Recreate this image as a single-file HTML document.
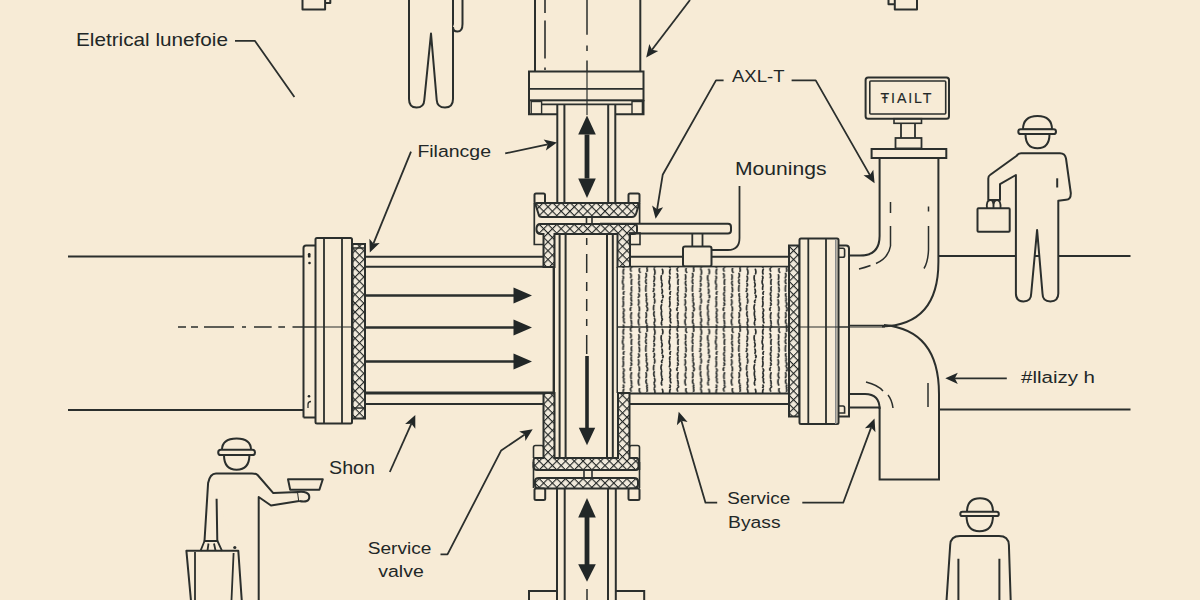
<!DOCTYPE html>
<html><head><meta charset="utf-8"><title>Pipe diagram</title>
<style>
html,body{margin:0;padding:0;background:#F7EBD6;}
svg{display:block;}
text{font-family:"Liberation Sans",sans-serif;fill:#222727;}
</style></head><body>
<svg width="1200" height="600" viewBox="0 0 1200 600">
<defs>
<pattern id="xh" width="6.2" height="6.2" patternUnits="userSpaceOnUse" patternTransform="rotate(45)">
<rect width="6.2" height="6.2" fill="#f1eadc"/>
<path d="M0 0H6.2M0 0V6.2" stroke="#232726" stroke-width="2.2" fill="none"/>
</pattern>
<pattern id="fil" width="46.50" height="60" patternUnits="userSpaceOnUse" x="619.5" y="268">
<rect width="46.50" height="60" fill="#f8efdf"/>
<path d="M4.3 1.2q-1.2 2.4 -0.3 4.7M3.5 8.3q0.9 1.3 0.0 2.7M3.4 12.4q-0.8 2.1 0.4 4.2M4.0 17.8q-0.6 1.8 -0.4 3.7M4.5 23.7q-1.1 1.3 -0.3 2.5M4.1 28.7q-0.9 1.5 -0.3 3.0M3.7 33.3q0.7 2.7 -0.3 5.3M4.0 40.8q1.2 1.5 0.1 2.9M3.8 45.0q1.2 2.3 -0.2 4.6M4.5 50.9q-0.7 2.0 0.4 3.9M4.0 57.1q0.8 1.5 -0.5 2.9M11.3 0.1q-0.6 1.5 0.3 3.0M11.1 5.7q1.1 1.9 0.2 3.9M12.3 11.5q-0.8 2.4 -0.3 4.9M12.2 18.8q-0.8 2.0 0.0 4.0M11.8 24.5q-1.1 1.7 0.2 3.4M11.8 29.6q-0.6 1.7 0.4 3.4M11.6 34.9q1.2 1.3 -0.1 2.6M11.4 39.7q-1.1 1.3 -0.3 2.7M12.0 44.9q-1.0 2.7 -0.4 5.4M11.6 52.3q0.7 1.9 0.5 3.8M11.9 57.5q1.3 1.2 -0.2 2.5M20.1 0.5q-0.8 2.0 0.5 3.9M19.4 6.9q0.6 2.2 0.0 4.4M19.8 13.2q-1.1 2.1 0.2 4.1M19.6 19.2q0.9 2.2 0.3 4.5M19.2 26.0q1.3 1.6 -0.3 3.3M19.1 31.9q0.8 2.5 -0.2 5.1M19.6 38.8q0.8 2.0 0.2 4.0M19.6 44.9q-1.2 2.5 0.5 5.0M19.2 51.6q-0.7 2.7 0.4 5.4M27.5 0.6q0.6 1.4 0.1 2.7M26.5 5.4q1.1 2.2 -0.3 4.5M26.7 11.7q-1.1 1.9 0.2 3.8M26.6 17.7q-0.5 2.7 -0.2 5.5M26.9 25.7q-0.8 1.5 0.2 3.0M27.0 30.2q0.5 1.4 -0.2 2.7M27.2 34.4q1.3 1.9 -0.2 3.7M27.6 39.5q1.3 1.7 -0.1 3.4M26.6 44.8q0.9 2.5 -0.1 4.9M26.9 51.8q-1.0 2.0 0.4 3.9M27.7 57.3q-0.8 1.3 0.1 2.5M34.7 0.9q1.3 2.7 0.5 5.4M34.6 8.2q1.1 2.6 -0.2 5.2M34.6 15.5q0.9 1.3 -0.0 2.6M34.2 20.5q0.7 1.4 -0.4 2.9M34.8 25.5q0.7 1.8 -0.5 3.7M35.0 31.0q0.7 2.0 -0.0 4.0M34.4 37.4q-0.5 2.2 -0.2 4.4M34.7 43.9q-0.9 2.3 0.2 4.6M35.1 50.5q0.9 2.1 -0.4 4.3M34.8 56.1q1.1 2.0 0.1 3.9M42.9 1.4q0.9 2.2 0.2 4.4M41.9 7.7q-0.7 2.6 0.3 5.2M42.1 14.7q1.2 2.1 -0.0 4.2M42.5 21.1q0.9 2.1 0.0 4.1M43.0 27.1q1.2 1.3 0.2 2.6M42.9 32.0q-1.3 1.3 -0.5 2.6M42.1 36.8q-1.1 2.5 -0.2 5.0M42.2 43.3q-0.8 2.6 0.1 5.3M42.3 50.0q1.1 1.3 0.1 2.6M42.1 54.0q-0.5 1.4 0.2 2.9" stroke="#282c2c" stroke-width="1.7" fill="none" stroke-linecap="round"/>
</pattern>
</defs>
<rect width="1200" height="600" fill="#F7EBD6"/>

<g id="main" stroke="#2b2f2d" stroke-width="2" fill="none" stroke-linecap="butt">
<!-- left main pipe lines -->
<path d="M68 256.5H304M68 410H304"/>
<!-- right main pipe lines -->
<path d="M938 256H1130.5M938 409.5H1130.5"/>
<!-- centerline -->
<path d="M178 327H186M191 327H198M204 327H234M242 327H246M254 327H271.7M278.3 327H285M292.5 327H303" stroke-width="1.5"/>
<path d="M303 327H365M618 327H885" stroke-width="1.2"/>

<!-- left flange -->
<path d="M303.5 417.5V248a2.5 2.5 0 0 1 2.5-2.5h9.5" />
<path d="M303.5 417.5h12"/>
<rect x="315.5" y="238" width="36.5" height="185.5" rx="1.5" fill="#F7EBD6"/>
<path d="M324 238.5V423M342 238.5V423" stroke-width="1.8"/>
<rect x="352.5" y="244" width="12.5" height="174.5" fill="url(#xh)"/>
<path d="M352.5 248h12.5M352.5 408h12.5" stroke-width="1.4"/>
<g fill="#222727" stroke="none"><rect x="307.9" y="253" width="2.6" height="4.6" rx="1.2"/><circle cx="309.5" cy="263" r="1.3"/><circle cx="309" cy="396.3" r="1.3"/></g>
<path d="M311 401.5Q308 401.5 308 404.5V408" stroke-width="1.3"/>

<!-- left inner pipe -->
<path d="M365 256.7H543.5M365 266.8H554M365 393.5H543.5M365 404H543.5"/>
<path d="M553.5 267V392.5M365 392.5H553.5" stroke-width="1.8"/>
<!-- flow arrows -->
<path d="M365 295.5H516M365 327.5H516M365 361.5H516" stroke-width="2.7"/>
</g>
<g fill="#222727">
<path d="M513.5 287.5L532 295.5L513.5 303.5Z"/>
<path d="M513.5 319.5L532 327.5L513.5 335.5Z"/>
<path d="M513.5 353.5L532 361.5L513.5 369.5Z"/>
</g>
<g stroke="#2b2f2d" stroke-width="2" fill="none">
<!-- top cylinder -->
<path d="M535 0V71.5M640.3 0V71.5"/>
<path d="M545 0V13M545 20.6V58.5M545 67.5V70" stroke-width="1.6"/>
<path d="M587 0V34.7M587 45.5V51M587 60.6V71.5" stroke-width="1.5"/>
<path d="M586.7 238V356" stroke-width="1.5" stroke-dasharray="7 9 19 9 9 8 12 8"/>
<path d="M587 589V600" stroke-width="1.5"/>
<rect x="529" y="71.5" width="114.5" height="28.8" fill="#F7EBD6"/>
<path d="M529 88.8H643.5" stroke-width="1.8"/>
<path d="M529 100V114.3H557.3M643.5 100V114.3H615.3"/>
<path d="M541.6 104.3H632" stroke-width="1.7"/>
<path d="M587 71.5V115" stroke-width="1.2"/>
<rect x="531.2" y="101.5" width="10.4" height="12.8" stroke-width="1.4"/>
<rect x="632" y="101.5" width="10.4" height="12.8" stroke-width="1.4"/>
<!-- upper small pipe -->
<path d="M557.3 104.3V203M564.4 104.3V203M608.2 104.3V203M615.3 104.3V203"/>
</g>
<g fill="#222727">
<path d="M584.6 134.5H589.4V178.5H584.6Z"/>
<path d="M587 115.5L595.8 134.5H578.2Z"/>
<path d="M587 198L595.8 178.5H578.2Z"/>
</g>
<g stroke="#2b2f2d" stroke-width="2" fill="none">
<!-- upper valve -->
<rect x="534.5" y="193.5" width="10.5" height="10" rx="1.5" fill="#F7EBD6"/>
<rect x="628.5" y="193.5" width="11" height="10" rx="1.5" fill="#F7EBD6"/>
<path d="M537 203H637.5Q639 203 638.5 206L636 214Q635 217 632 217H542Q539 217 538.5 214L536 206Q535.5 203 537 203Z" fill="url(#xh)"/>
<path d="M586.5 217V224M592 217V224" stroke-width="1.6"/>
<path d="M540 224H634Q637 224 637 227V231Q637 234 633 234H630V267H617.5V234H554.5V267H543.5V234H541Q536.5 234 536.5 230V228Q537 224 540 224Z" fill="url(#xh)"/>
<path d="M534.3 203V244.5H543.5M639.6 203V223" stroke-width="1.7"/>
<rect x="629.5" y="233" width="10.5" height="11.5" stroke-width="1.6"/>
<!-- handle bar -->
<path d="M600 223.8H728Q731 223.8 731 227V230.5Q731 233.5 728 233.5H629.5" />
<path d="M692.3 233.5V246.5M702.5 233.5V246.5" stroke-width="1.8"/>
<rect x="683" y="246.5" width="28.5" height="20" rx="2" fill="#F7EBD6"/>
<!-- right inner pipe to flange -->
<path d="M629.5 256.7H683M711.5 256.7H789M629.5 266.8H789"/>
<!-- vertical pipe middle -->
<path d="M554 267V393M559.6 234V458M565.6 234V458M607 234V458M612.8 234V458M617.5 267V393"/>
<!-- filter -->
<rect x="618" y="267.5" width="171" height="125.5" fill="url(#fil)" stroke="none"/>
<path d="M618 393.5H789M618 404H789"/><path d="M618 327H789" stroke-width="1.4"/>
<!-- lower hatched sides + U -->
<path d="M543.5 393V458H535Q533.5 458 533.5 462V467Q534 470 537 470H636Q638.5 470 638.5 467V462Q638.5 458 637 458H629.5V393H618V458H554.5V393Z" fill="url(#xh)"/>
<path d="M533.5 458V447.5Q533.5 445.5 535.5 445.5H541.5Q543.5 445.5 543.5 447.5M629.5 447.5Q629.5 445.5 631.5 445.5H637.5Q639.5 445.5 639.5 447.5V470" stroke-width="1.6"/>
<path d="M533.5 462V488M639.5 462V488" stroke-width="1.6"/>
<path d="M584 470V478M592 470V478" stroke-width="1.6"/>
<path d="M539 478H634Q638 478 638 481V485Q638 488.5 634 488.5H539Q535 488.5 535 485V481Q535 478 539 478Z" fill="url(#xh)"/>
<rect x="534.5" y="488.5" width="10.7" height="11.5" rx="1.5" fill="#F7EBD6"/>
<rect x="628.5" y="488.5" width="11" height="11.5" rx="1.5" fill="#F7EBD6"/>
<!-- lower pipe -->
<path d="M557 488.5V600M564.7 488.5V600M608 488.5V600M615.8 488.5V600"/>
<path d="M529 600V591H557M615.8 591H644.2V600"/>
</g>
<g fill="#222727">
<path d="M585.2 356H588.8V430H585.2Z"/>
<path d="M587 445.3L595.2 427.8H578.8Z"/>
<path d="M584.6 515H589.4V566H584.6Z"/>
<path d="M587 498L595.8 517.5H578.2Z"/>
<path d="M587 581.7L595.8 564.2H578.2Z"/>
</g>

<g stroke="#2b2f2d" stroke-width="2" fill="none">
<!-- right flange -->
<rect x="789" y="245.5" width="10.5" height="171" fill="url(#xh)"/>
<rect x="799.5" y="238.5" width="39" height="185.5" rx="1.5" fill="#F7EBD6"/>
<path d="M808.3 239V424M826 239V424" stroke-width="1.8"/><path d="M835.8 239V424" stroke-width="1.6" stroke="#8a8c8c"/>
<path d="M838.5 248.2H843Q844.6 248.2 844.6 250V255.5Q844.6 257.3 843 257.3H838.5M838.5 406H843Q844.6 406 844.6 408V413H838.5" stroke-width="1.6"/>
<path d="M838.5 245.5H846Q849 245.5 849 248.5V416.5H838.5"/>
<!-- upper elbow -->
<path d="M849 255.6H860Q879.6 255.6 879.6 236V158"/>
<path d="M938.4 158V262Q938.4 325 882 326.5"/>
<path d="M849 325.5H885" stroke-width="1.5"/>
<rect x="871.6" y="149" width="74.7" height="9" fill="#F7EBD6"/>
<!-- lower elbow -->
<path d="M884 325Q939 330 939 394V479.5H879.6V407.5H849"/>
<path d="M849 394H865Q879.6 394 879.6 409"/>
<!-- elbow highlight dashes -->
<path d="M890.5 202V213M890.5 226V246Q888.5 258 876 263.5M870.5 265.5Q865 267.5 859 269" stroke-width="1.5"/>
<path d="M928.5 206.5V211.5M928.5 226V250Q928 262 924 268.5" stroke-width="1.5"/>
<path d="M866 382Q878 385 883 391M888 395Q892 400 893 408" stroke-width="1.5"/>
<path d="M928 383V407" stroke-width="1.5"/>
<!-- monitor -->
<rect x="865.6" y="77.4" width="83.4" height="41.3" rx="2.5" fill="#F7EBD6"/>
<rect x="869.8" y="81" width="75.9" height="33" rx="1" stroke-width="1.6"/>
<rect x="894" y="118.7" width="27.5" height="4.6" stroke-width="1.6"/>
<path d="M901 123.3V138M915 123.3V138" stroke-width="1.8"/>
<rect x="895.5" y="138" width="26" height="10.4" stroke-width="1.8"/>
</g>

<g stroke="#2b2f2d" stroke-width="2" fill="#F7EBD6" stroke-linejoin="round">
<!-- small boxes top -->
<path d="M302.5 0V9.6H325.1V0M325.1 0V2.9H330.3V0" fill="none"/>
<path d="M894.8 0V9.5H917V0M894.8 0V4.3H888.5V0" fill="none"/>
<!-- top person -->
<path d="M409 0V99Q409 107.5 416.5 107.5Q424 107.5 424.3 100L431 33.5L436.7 100Q437.2 107.5 445 107.5Q453 107.5 453 99V0"/>
<path d="M462.5 0V24Q462.5 31.6 457.5 31.6Q453 31.6 453 27" />
<!-- right person -->
<path d="M1023 129.5Q1023 116 1037.5 116Q1052 116 1052 129.5Z"/>
<path d="M1025.5 134Q1025.5 148.3 1037.5 148.3Q1049.5 148.3 1049.5 134Z"/>
<rect x="1018.3" y="129.3" width="37.7" height="4.8" rx="2.4"/>
<path d="M1021 153.3H1060Q1065 153.3 1066 158.5L1070.8 193Q1071 199.5 1066 199.8L1058.3 200.8V293.6Q1058.3 301.4 1050.4 301.4Q1042.5 301.4 1042.5 293.5L1037.1 229.9L1031.2 293.5Q1031.2 301.4 1023.5 301.4Q1015.9 301.4 1015.9 293.6V175L1000 184.2V200H988.3V178.5Q988.3 176 990 175L1016.7 155.8Q1018 153.3 1021 153.3Z"/>
<path d="M1057.2 178.3V187.5" fill="none"/>
<rect x="977.5" y="208.3" width="32.2" height="23.4" rx="1"/>
<path d="M987 208.3Q986 200 990.5 200Q994 200 993.5 208.3M993.5 208.3Q993 200 997 200Q1001 200 1000.5 208.3" fill="none" stroke-width="1.8"/>
<!-- bottom right person -->
<path d="M967 512Q967 498.3 980 498.3Q993 498.3 993 512Z"/>
<path d="M966.5 515.5Q966.5 531.3 979.5 531.3Q993 531.3 993 515.5Z"/>
<rect x="960.3" y="511.7" width="38.5" height="4.4" rx="2.2"/>
<path d="M946.5 601L950.2 545Q950.6 536 960 536H999Q1008.5 536 1008.9 545L1010.7 601Z"/>
<path d="M958.4 558.8V600M999.4 558.8V600" fill="none"/>
<!-- bottom left person -->
<path d="M222 450Q222 438.5 236.6 438.5Q251 438.5 251 450Z"/>
<path d="M224 455Q224 469.7 236.6 469.7Q249.4 469.7 249.4 455Z"/>
<rect x="218.2" y="449.8" width="36.8" height="5.2" rx="2.6"/>
<path d="M258.7 601V497L271 505.5L299.2 501L298 492L273.3 493.1L257.6 475Q256 473.5 252 473.5H216Q210 473.5 208.1 483L204.5 541H217.3L216.6 498.7" />
<path d="M298 492Q309.3 491 309.3 497Q309.3 503 299.2 501" />
<path d="M288 479.2H322.8L319.4 489.7H290.2Z"/>
<path d="M186.4 550.8H238.3L241.8 601H191Z"/>
<path d="M195 552V600M233.6 553L231.5 600" fill="none" stroke-width="1.8"/>
<circle cx="234.8" cy="547.5" r="1.6" fill="#2b2f2d" stroke="none"/>
<path d="M200.5 550.8L204.5 541H217.5L222 550.8M207.5 550.5L208.5 543.5M214 543.5L215.5 550.5" fill="none" stroke-width="1.8"/>
</g>
<path d="M303.5 327H352.5M799.5 327H849" stroke="#2b2f2d" stroke-width="1.2" fill="none"/>
<g id="leaders" stroke="#2b2f2d" stroke-width="1.8" fill="none" stroke-linejoin="round">
<path d="M235 40.8H254.8L294.4 97"/>
<path d="M711.5 250H728Q739.5 250 739.5 238V186"/>
<path d="M411.0 151.7 L373.4 243.6"/>
<path d="M505.2 153.4 L547.7 144.4"/>
<path d="M723.6 80.4 L716.0 80.4 L662.7 174.8 L657.1 209.3"/>
<path d="M791.6 80.4 L815.7 80.4 L869.9 175.1"/>
<path d="M690.0 0.0 L652.0 49.8"/>
<path d="M1006.8 378.3 L954.8 378.3"/>
<path d="M389.8 472.0 L411.4 423.7"/>
<path d="M440.5 554.3 L447.5 554.3 L501.2 450.4 L524.8 434.6"/>
<path d="M717.2 502.7 L705.5 502.7 L681.4 420.8"/>
<path d="M802.3 502.7 L843.2 502.7 L871.2 427.4"/>
</g>
<g id="heads" fill="#222727">
<path d="M369.8 252.4L369.4 238.7L373.4 243.6L379.7 243.0Z"/>
<path d="M557.0 142.4L545.9 150.5L547.7 144.4L543.6 139.5Z"/>
<path d="M655.6 218.7L652.1 205.5L657.1 209.3L663.1 207.3Z"/>
<path d="M874.6 183.3L863.5 175.2L869.9 175.1L873.3 169.7Z"/>
<path d="M646.2 57.4L649.3 44.1L652.0 49.8L658.2 50.9Z"/>
<path d="M945.3 378.3L957.8 372.7L954.8 378.3L957.8 383.9Z"/>
<path d="M415.3 415.0L415.3 428.7L411.4 423.7L405.1 424.1Z"/>
<path d="M532.7 429.3L525.4 440.9L524.8 434.6L519.2 431.6Z"/>
<path d="M678.7 411.7L687.6 422.1L681.4 420.8L676.9 425.3Z"/>
<path d="M874.5 418.5L875.4 432.2L871.2 427.4L864.9 428.3Z"/>
</g>
<g font-size="16.8" stroke="#222727" stroke-width="0">
<text x="76" y="45.5" font-size="18.4" textLength="152" lengthAdjust="spacingAndGlyphs">Eletrical lunefoie</text>
<text x="417.4" y="157" textLength="73.6" lengthAdjust="spacingAndGlyphs">Filancge</text>
<text x="732" y="82" textLength="52.5" lengthAdjust="spacingAndGlyphs">AXL-T</text>
<text x="735" y="174.5" font-size="18.4" textLength="91.5" lengthAdjust="spacingAndGlyphs">Mounings</text>
<text x="1021" y="382.8" textLength="74" lengthAdjust="spacingAndGlyphs">#llaizy h</text>
<text x="329" y="474.3" font-size="18.6" textLength="46" lengthAdjust="spacingAndGlyphs">Shon</text>
<text x="367.8" y="553.8" textLength="63.6" lengthAdjust="spacingAndGlyphs">Service</text>
<text x="378.3" y="576.6" textLength="45.5" lengthAdjust="spacingAndGlyphs">valve</text>
<text x="727.2" y="503.8" textLength="63" lengthAdjust="spacingAndGlyphs">Service</text>
<text x="728.1" y="527.9" textLength="52.5" lengthAdjust="spacingAndGlyphs">Byass</text>
<text x="880.5" y="103" font-size="14.2" stroke-width="0.15" textLength="51" lengthAdjust="spacing">ŦIAILT</text>
</g>

</svg>
</body></html>
